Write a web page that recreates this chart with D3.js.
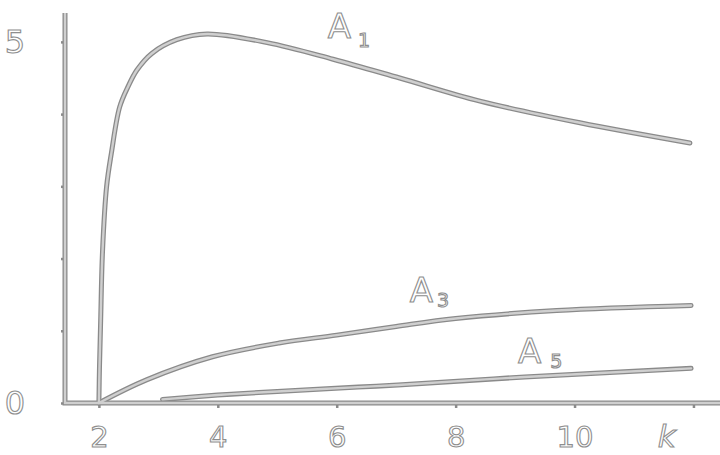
<!DOCTYPE html>
<html>

<head>
  <meta charset="utf-8">
  <title>A1, A3, A5 against k</title>
  <script src="https://d3js.org/d3.v7.min.js"></script>
  <style>
    body { margin: 0; background: #fff; }
    .lbl { font-family: "DejaVu Sans", sans-serif; fill: #fff; stroke: #8e8e8e; stroke-width: 1.1px; }
  </style>
</head>

<body>
  <svg width="720" height="455"></svg>
  <script>
    // values
    const kA1 = [2, 2.01, 2.03, 2.06, 2.13, 2.21, 2.35, 2.49, 2.64, 2.89, 3.31, 3.82, 4.83, 5.94, 7.06, 8.41, 10.09, 11.94];
    const vA1 = [0, 0.5, 1.15, 2.08, 3.0, 3.46, 4.1, 4.38, 4.61, 4.84, 5.03, 5.11, 4.99, 4.76, 4.5, 4.18, 3.88, 3.6];
    const kA3 = [2, 2.8, 3.91, 5.03, 6, 7, 8, 9.7, 11.96];
    const vA3 = [0, 0.32, 0.64, 0.83, 0.94, 1.06, 1.17, 1.28, 1.35];
    const kA5 = [3.07, 4, 5, 6.36, 7.03, 9.16, 11.96];
    const vA5 = [0.05, 0.11, 0.16, 0.22, 0.25, 0.36, 0.48];
    const xTicks = [2, 4, 6, 8, 10, 12];
    const yTicks = [0, 1, 2, 3, 4, 5];

    const svg = d3.select("svg");

    const x = d3.scaleLinear().domain([1.43, 12.48]).range([65, 722]);
    const y = d3.scaleLinear().domain([0, 5.4]).range([403, 13]);

    // ink style: dark rim with a lighter core
    function inked(sel) {
      sel.clone(true).lower().attr("stroke", "#8a8a8a").attr("stroke-width", 5);
      sel.attr("stroke", "#cfcfcf").attr("stroke-width", 2.4);
    }

    const ax = svg.append("g");

    ax.append("g")
      .attr("transform", `translate(0,${y(0)})`)
      .call(d3.axisBottom(x).tickValues(xTicks).tickSize(5).tickPadding(18)
        .tickFormat(d => d < 12 ? d : ""))
      .call(g => g.select(".domain").remove())
      .call(g => g.selectAll(".tick text").attr("font-size", 29));

    ax.append("g")
      .attr("transform", `translate(${x(1.43)},0)`)
      .call(d3.axisLeft(y).tickValues(yTicks).tickSize(4).tickPadding(36)
        .tickFormat(d => d === 0 || d === 5 ? d : ""))
      .call(g => g.select(".domain").remove())
      .call(g => g.selectAll(".tick text").attr("font-size", 32));

    ax.selectAll(".tick line").attr("stroke", "#8a8a8a").attr("stroke-width", 2.5);
    ax.selectAll(".tick text").attr("class", "lbl").attr("fill", null);

    // axis frame
    const frame = svg.append("path")
      .attr("fill", "none")
      .attr("d", `M${x(1.43)},${y(5.4)}V${y(0)}H${x(12.48)}`);
    inked(frame);

    const line = d3.line()
      .x(d => x(d[0]))
      .y(d => y(d[1]))
      .curve(d3.curveCatmullRom.alpha(0.5));

    const series = [
      [kA1, vA1],
      [kA3, vA3],
      [kA5, vA5]
    ];

    series.forEach(([ks, vs]) => {
      const p = svg.append("path")
        .attr("fill", "none")
        .attr("stroke-linecap", "round")
        .attr("d", line(ks.map((k, i) => [k, vs[i]])));
      inked(p);
    });

    // curve names
    const names = [
      { k: 5.85, v: 5.06, sub: "1", dx: 7, dy: 9 },
      { k: 7.23, v: 1.4, sub: "3", dx: 4, dy: 5 },
      { k: 9.05, v: 0.55, sub: "5", dx: 9, dy: 5 }
    ];
    names.forEach(n => {
      const t = svg.append("text")
        .attr("class", "lbl")
        .attr("x", x(n.k))
        .attr("y", y(n.v))
        .attr("font-size", 34);
      t.append("tspan").text("A");
      t.append("tspan").attr("dx", n.dx).attr("dy", n.dy).attr("font-size", 19).text(n.sub);
    });

    svg.append("text")
      .attr("class", "lbl")
      .attr("x", x(11.55))
      .attr("y", 447)
      .attr("text-anchor", "middle")
      .attr("font-size", 31)
      .attr("font-style", "italic")
      .text("k");
  </script>
</body>

</html>
